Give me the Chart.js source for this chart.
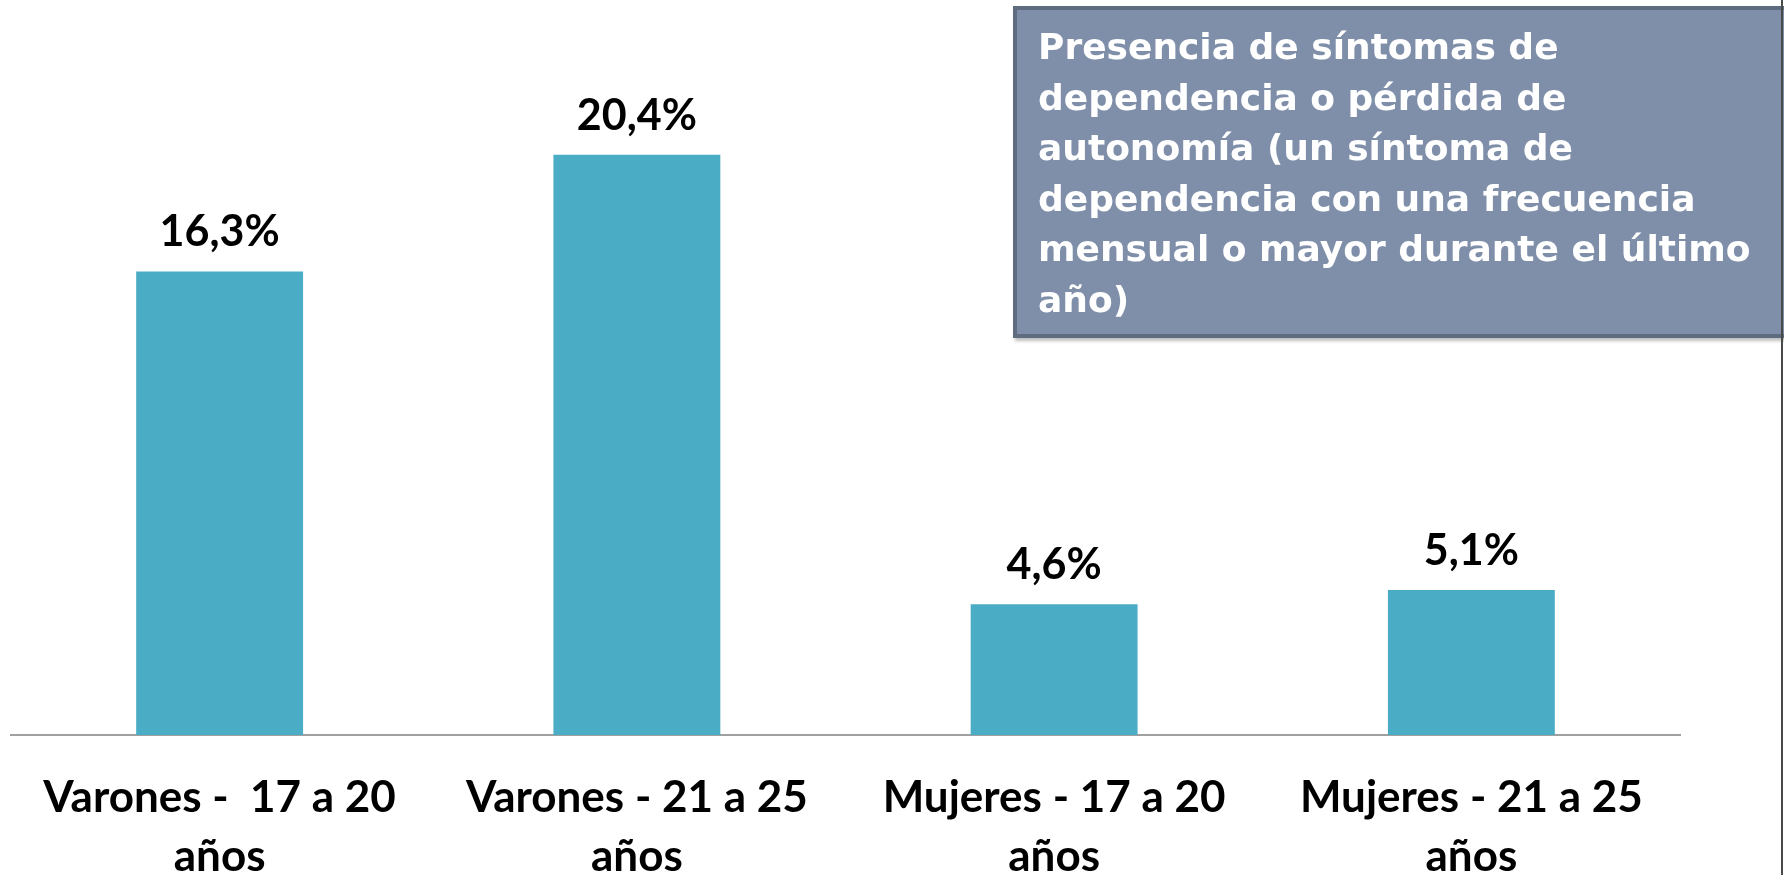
<!DOCTYPE html>
<html lang="es">
<head>
<meta charset="utf-8">
<script src="https://cdn.jsdelivr.net/npm/chart.js@4/dist/chart.umd.min.js"></script>
<style>
  html, body { margin: 0; padding: 0; background: #ffffff; overflow: hidden; }
  #wrap { position: relative; width: 1784px; height: 919px; }
  #chart { display: block; }
  #note {
    position: absolute; left: 1013px; top: 6px; width: 800px; height: 332px;
    box-sizing: border-box; background: #7f8fa9; border: 4px solid #5f6b7f;
    box-shadow: 2px 3px 3px rgba(0,0,0,0.25);
    color: #ffffff; font-family: "DejaVu Sans", sans-serif; font-weight: bold;
    font-size: 36px; line-height: 50.6px; padding: 12px 0 0 21px; white-space: nowrap;
  }
  #edge { position: absolute; left: 1781px; top: 0; width: 2px; height: 919px; background: #4a4a4a; }
</style>
</head>
<body>
<div id="wrap">
  <canvas id="chart" width="1784" height="919"></canvas>
  <div id="note">Presencia de síntomas de<br>dependencia o pérdida de<br>autonomía (un síntoma de<br>dependencia con una frecuencia<br>mensual o mayor durante el último<br>año)</div>
  <div id="edge"></div>
</div>
<script>
// Grupos por sexo y edad
const categories = [
  ["Varones -  17 a 20", "años"],
  ["Varones - 21 a 25", "años"],
  ["Mujeres - 17 a 20", "años"],
  ["Mujeres - 21 a 25", "años"]
];
// Porcentaje con síntomas de dependencia
const values = [16.3, 20.4, 4.6, 5.1];
const valueLabels = ["16,3%", "20,4%", "4,6%", "5,1%"];

const labelFont = '"Lato", "Liberation Sans", sans-serif';

// Writes the percentage above each bar
const barValues = {
  id: 'barValues',
  afterDatasetsDraw(chart) {
    const ctx = chart.ctx;
    const meta = chart.getDatasetMeta(0);
    ctx.save();
    ctx.font = 'bold 43px ' + labelFont;
    ctx.fillStyle = '#000000';
    ctx.textAlign = 'center';
    ctx.textBaseline = 'alphabetic';
    meta.data.forEach((bar, i) => {
      ctx.fillText(valueLabels[i], bar.x, bar.y - 25);
    });
    ctx.restore();
  }
};

new Chart(document.getElementById('chart'), {
  type: 'bar',
  data: {
    labels: categories,
    datasets: [{
      data: values,
      backgroundColor: '#4bacc6',
      barPercentage: 0.4,
      categoryPercentage: 1.0
    }]
  },
  options: {
    responsive: false,
    animation: false,
    layout: { padding: { left: 11, right: 104, top: 24, bottom: 0 } },
    plugins: { legend: { display: false }, tooltip: { enabled: false } },
    scales: {
      y: { display: false, min: 0, max: 25 },
      x: {
        grid: { display: false, drawTicks: false },
        border: { display: true, color: '#a0a0a0', width: 2 },
        ticks: {
          color: '#000000',
          padding: 33,
          font: { family: labelFont, weight: 'bold', size: 44, lineHeight: 1.34 }
        }
      }
    }
  },
  plugins: [barValues]
});
</script>
</body>
</html>
